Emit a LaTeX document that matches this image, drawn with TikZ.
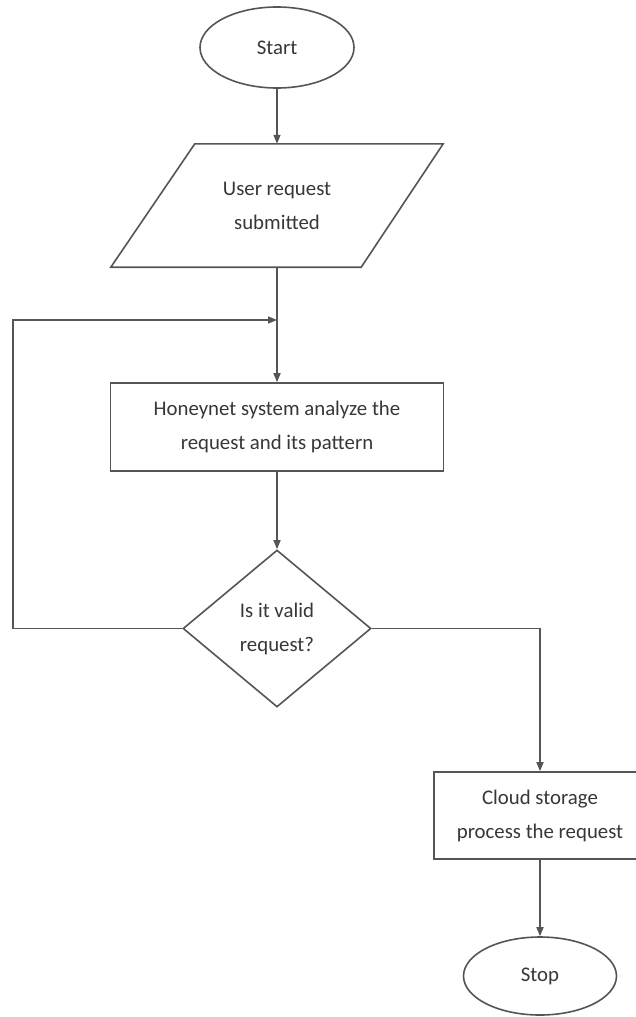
\documentclass[tikz,border=0pt]{standalone}
\usepackage{fontspec}
\setmainfont{Carlito}
\usetikzlibrary{shapes.geometric,arrows.meta}
\definecolor{lncol}{RGB}{85,85,85}
\definecolor{txcol}{RGB}{55,55,55}
\begin{document}
\begin{tikzpicture}[x=1pt,y=-1pt,
  every node/.style={font=\fontsize{20.8}{34}\selectfont, text=txcol, align=center, inner sep=0pt},
  shp/.style={draw=lncol, line width=1.6pt},
  arr/.style={draw=lncol, line width=1.6pt, -{Triangle[length=9pt,width=7pt]}}]
\useasboundingbox (0,0) rectangle (635,1017);
\fill[white] (0,0) rectangle (635,1017);
\node[shp, ellipse, minimum width=154pt, minimum height=81pt] (start) at (277,47.5) {Start};
\node[minimum width=332pt, minimum height=123pt] (inp) at (277,205.5) {User request\\submitted};
\draw[shp] ([xshift=84pt]inp.north west) -- (inp.north east) -- ([xshift=-82pt]inp.south east) -- (inp.south west) -- cycle;
\draw[arr] (start) -- (inp);
\node[shp, minimum width=333pt, minimum height=88pt] (hon) at (277,427) {Honeynet system analyze the\\request and its pattern};
\draw[arr] (inp) -- (hon);
\coordinate (merge) at (277,320);
\node[shp, diamond, minimum width=188pt, minimum height=157pt] (dec) at (277,628.5) {Is it valid\\request?};
\draw[arr] (hon) -- (dec);
\draw[arr] (dec.west) -- ++(-169,0) |- (merge);
\node[shp, minimum width=212pt, minimum height=87pt] (cloud) at (540,815.5) {Cloud storage\\process the request};
\draw[arr] (dec.east) -| (cloud.north);
\node[shp, ellipse, minimum width=153pt, minimum height=78pt] (stop) at (540,976) {Stop};
\draw[arr] (cloud) -- (stop);
\end{tikzpicture}
\end{document}
